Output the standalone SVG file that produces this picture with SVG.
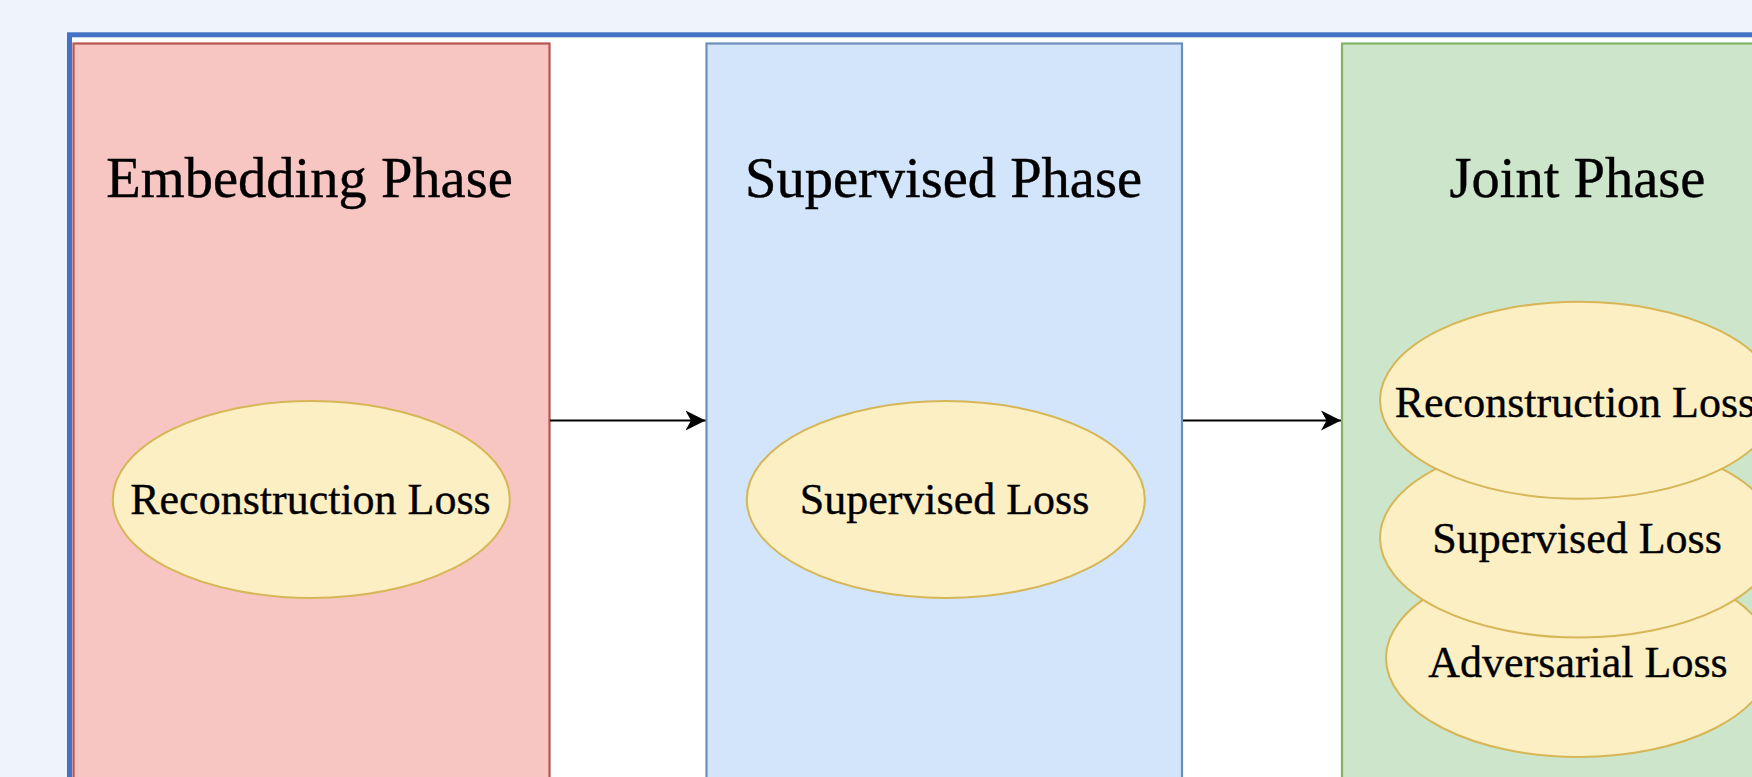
<svg xmlns="http://www.w3.org/2000/svg" width="1752" height="777" viewBox="0 0 1752 777">
<style>
.title{font-family:"Liberation Serif","Times New Roman",serif;font-size:56.5px;fill:#000;stroke:#000;stroke-width:0.4;text-anchor:middle}
.lbl{font-family:"Liberation Serif","Times New Roman",serif;font-size:44px;fill:#000;stroke:#000;stroke-width:0.35;text-anchor:middle}
.loss{fill:#fcefc4;stroke:#d6b656;stroke-width:2}
.conn{stroke:#000;stroke-width:2.2;fill:none}
</style>
<defs>
<marker id="arrow" markerUnits="userSpaceOnUse" markerWidth="24" markerHeight="24" refX="20" refY="10.5" orient="auto">
<path d="M0,0.5 L20,10.5 L0,20.5 L5.5,10.5 Z" fill="#000"/>
</marker>
</defs>
<rect x="0" y="0" width="1752" height="777" fill="#eef3fc"/>
<g id="frame">
<rect x="69.5" y="34.8" width="1800" height="1000" fill="#ffffff" stroke="#4472c4" stroke-width="5"/>
</g>
<g id="embedding">
<rect x="73.5" y="43.5" width="476" height="800" fill="#f7c6c3" stroke="#b85450" stroke-width="2.2"/>
<text class="title" x="309.5" y="197">Embedding Phase</text>
</g>
<g id="supervised">
<rect x="706.5" y="43.5" width="475.5" height="800" fill="#d3e5fa" stroke="#6c8ebf" stroke-width="2.2"/>
<text class="title" x="943.5" y="197">Supervised Phase</text>
</g>
<g id="joint">
<rect x="1342" y="43.5" width="476" height="800" fill="#cde6cb" stroke="#82b366" stroke-width="2.2"/>
<text class="title" x="1577.5" y="197">Joint Phase</text>
</g>
<g id="emb-recon">
<ellipse class="loss" cx="311.3" cy="499.5" rx="198.5" ry="98.5"/>
<text class="lbl" x="310.5" y="513.5">Reconstruction Loss</text>
</g>
<g id="sup-loss">
<ellipse class="loss" cx="945.8" cy="499.5" rx="199" ry="98.5"/>
<text class="lbl" x="944.5" y="513.5">Supervised Loss</text>
</g>
<g id="joint-adv">
<ellipse class="loss" cx="1579" cy="658" rx="193" ry="99"/>
<text class="lbl" x="1578" y="677">Adversarial Loss</text>
</g>
<g id="joint-sup">
<ellipse class="loss" cx="1579" cy="538" rx="199" ry="99.5"/>
<text class="lbl" x="1577" y="553">Supervised Loss</text>
</g>
<g id="joint-recon">
<ellipse class="loss" cx="1579" cy="400.3" rx="199" ry="98.5"/>
<text class="lbl" x="1575" y="416.7">Reconstruction Loss</text>
</g>
<g id="connectors">
<line class="conn" x1="550" y1="420.5" x2="705.5" y2="420.5" marker-end="url(#arrow)"/>
<line class="conn" x1="1183" y1="420.5" x2="1341" y2="420.5" marker-end="url(#arrow)"/>
</g>
</svg>
